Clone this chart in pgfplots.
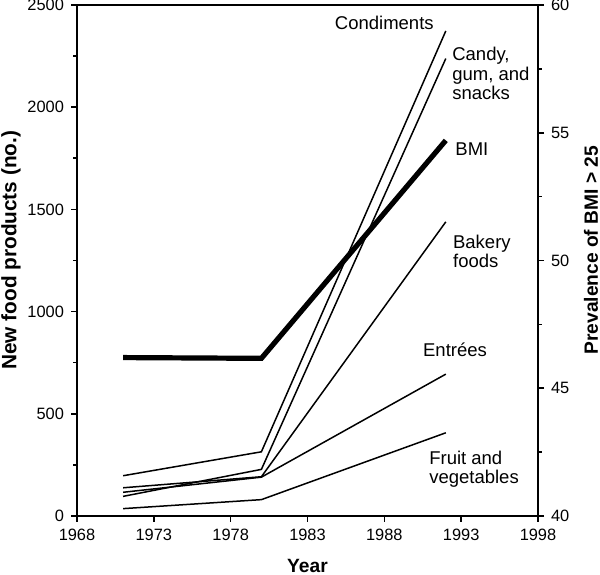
\documentclass[border=0pt]{standalone}
\usepackage{fontspec}
\setmainfont{Liberation Sans}
\usepackage{pgfplots}
\pgfplotsset{compat=1.18}

\pgfplotsset{
  common/.style={
    width=230.5pt, height=255.5pt, scale only axis,
    xmin=1968, xmax=1998,
    tick align=outside,
    major tick length=3pt, minor tick length=1.8pt,
    axis line style={line width=0.9pt},
    tick style={line width=0.8pt, black},
    ticklabel style={font=\fontsize{8.2}{9}\selectfont},
    /pgf/number format/assume math mode=true,
    /pgf/number format/1000 sep={},
    label style={font=\bfseries\fontsize{9.6}{11}\selectfont},
  },
}

\begin{document}
\begin{tikzpicture}
\begin{axis}[
  common, name=ax,
  ymin=0, ymax=2500,
  xtick={1968,1973,1978,1983,1988,1993,1998},
  ytick={0,500,1000,1500,2000,2500},
  minor y tick num=1,
  xtick pos=left, ytick pos=left,
  xlabel={Year}, ylabel={New food products (no.)},
  xlabel style={at={(axis description cs:0.5,-0.098)}, anchor=center},
  ylabel style={at={(axis description cs:-0.143,0.52)}, anchor=center,
    font=\bfseries\fontsize{10.4}{12}\selectfont},
  clip=false,
]
% Condiments
\addplot[black, line width=0.75pt] coordinates {(1971,197) (1980,314) (1992,2373)};
% Candy, gum, and snacks
\addplot[black, line width=0.75pt] coordinates {(1971,96) (1980,228) (1992,2238)};
% Bakery foods
\addplot[black, line width=0.75pt] coordinates {(1971,138) (1980,192) (1992,1439)};
% Entrees
\addplot[black, line width=0.75pt] coordinates {(1971,116) (1980,190) (1992,694)};
% Fruit and vegetables
\addplot[black, line width=0.75pt] coordinates {(1971,36) (1980,80) (1992,407)};

\begin{scope}[every node/.style={font=\fontsize{9.25}{9.6}\selectfont, inner sep=0pt}]
\node[anchor=center] at (axis cs:1988.0,2413) {Condiments};
\node[anchor=west, align=left] at (axis cs:1992.4,2165) {Candy,\\gum, and\\snacks};
\node[anchor=west] at (axis cs:1992.6,1794) {BMI};
\node[anchor=west, align=left] at (axis cs:1992.45,1293) {Bakery\\foods};
\node[anchor=west] at (axis cs:1990.5,812) {Entrées};
\node[anchor=west, align=left] at (axis cs:1990.9,230) {Fruit and\\vegetables};
\end{scope}
\end{axis}

\begin{axis}[
  common,
  ymin=40, ymax=60,
  axis x line=none, axis y line*=right,
  ytick={40,45,50,55,60},
  minor y tick num=1,
  ylabel={Prevalence of BMI > 25},
  ylabel style={at={(axis description cs:1.115,0.52)}, anchor=center},
]
% BMI
\addplot[black, line width=2.6pt] coordinates {(1971,46.2) (1980,46.17) (1992,54.7)};
\end{axis}

\pgfresetboundingbox
\path ([shift={(-38.5pt,-29.5pt)}]ax.south west) rectangle ([shift={(31pt,2.5pt)}]ax.north east);
\end{tikzpicture}
\end{document}
